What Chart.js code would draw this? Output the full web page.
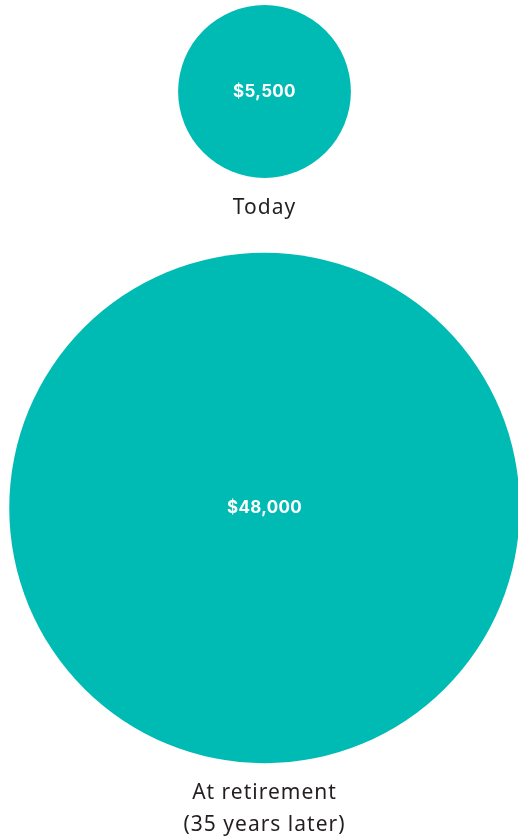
<!DOCTYPE html>
<html lang="en">
<head>
    <meta charset="UTF-8">
    <script src="https://cdn.jsdelivr.net/npm/chart.js"></script>
    <title>Savings growth</title>
    <style>
        body { margin: 0; background: #fff; }
        canvas { display: block; }
    </style>
</head>
<body>
    <canvas id="chart" width="518" height="839"></canvas>
    <script>
        // values and labels
        const categories = ["Today", "At retirement"];
        const subLabels = ["", "(35 years later)"];
        const amounts = [5500, 48000];
        const valueLabels = ["$5,500", "$48,000"];
        const rows = [0, 1]; // vertical slot of each bubble

        // bubble area is proportional to the amount
        const sizeFactor = 1.165;

        const labelPlugin = {
            id: "bubbleLabels",
            afterDatasetsDraw(chart) {
                const ctx = chart.ctx;
                const meta = chart.getDatasetMeta(0);
                meta.data.forEach((el, i) => {
                    const r = el.options.radius;
                    ctx.save();
                    ctx.textAlign = "center";
                    ctx.textBaseline = "middle";
                    ctx.fillStyle = "#ffffff";
                    ctx.font = "bold 17px Inter";
                    ctx.letterSpacing = "0.3px";
                    ctx.fillText(valueLabels[i], el.x, el.y);
                    ctx.fillStyle = "#231f20";
                    ctx.font = "21px 'Noto Sans'";
                    ctx.letterSpacing = "1px";
                    ctx.fillText(categories[i], el.x, el.y + r + 30);
                    if (subLabels[i]) {
                        ctx.fillText(subLabels[i], el.x, el.y + r + 62);
                    }
                    ctx.restore();
                });
            }
        };

        new Chart(document.getElementById("chart"), {
            type: "bubble",
            data: {
                datasets: [{
                    data: amounts.map((v, i) => ({ x: 0, y: rows[i], r: sizeFactor * Math.sqrt(v) })),
                    backgroundColor: "#00bab4",
                    borderWidth: 0,
                    hoverBorderWidth: 0,
                    clip: false
                }]
            },
            options: {
                responsive: false,
                animation: false,
                layout: { autoPadding: false, padding: 0 },
                plugins: { legend: { display: false }, tooltip: { enabled: false } },
                scales: {
                    x: { type: "linear", display: false, min: -1, max: 0.9584 },
                    y: { type: "linear", display: false, reverse: true, min: -0.2197, max: 1.7947 }
                }
            },
            plugins: [labelPlugin]
        });
    </script>
</body>
</html>
